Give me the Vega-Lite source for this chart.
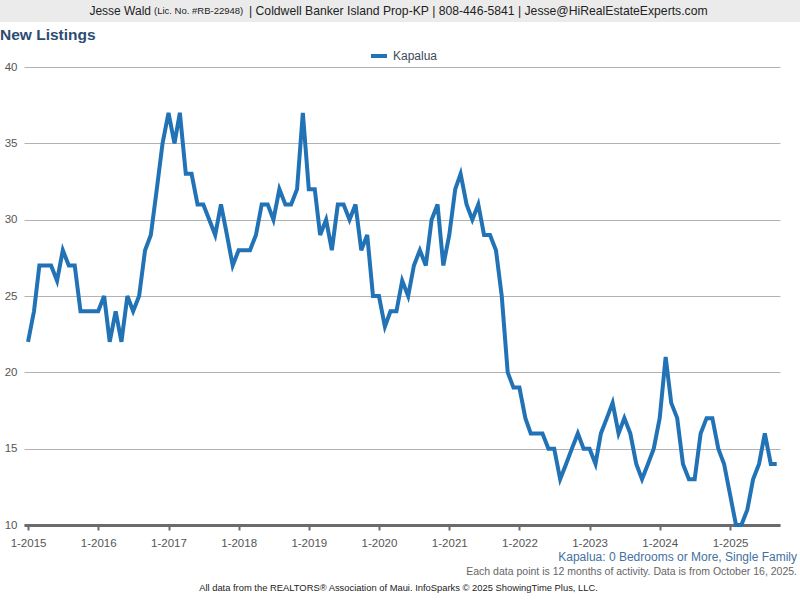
{
  "$schema": "https://vega.github.io/schema/vega-lite/v6.json",
  "padding": 0,
  "background": "white",
  "config": {"view": {"stroke": null}, "font": "Liberation Sans"},
  "columns": 1,
  "bounds": "flush",
  "spacing": 45,
  "align": "none",
  "concat": [
    {
      "width": 800,
      "height": 22,
      "view": {"fill": "#ebebeb", "stroke": null},
      "layer": [
        {"data": {"values": [{"t": "Jesse Wald"}]}, "mark": {"type": "text", "align": "right", "dx": -249, "fontSize": 12, "color": "#222"}, "encoding": {"text": {"field": "t"}}},
        {"data": {"values": [{"t": "(Lic. No. #RB-22948)"}]}, "mark": {"type": "text", "align": "left", "dx": -246, "fontSize": 9.5, "color": "#222"}, "encoding": {"text": {"field": "t"}}},
        {"data": {"values": [{"t": "| Coldwell Banker Island Prop-KP | 808-446-5841 | Jesse@HiRealEstateExperts.com"}]}, "mark": {"type": "text", "align": "left", "dx": -151, "fontSize": 12.2, "color": "#222"}, "encoding": {"text": {"field": "t"}}}
      ]
    },
    {
      "width": 780,
      "height": 458,
      "title": {"text": "New Listings", "anchor": "start", "frame": "group", "fontSize": 15.5, "fontWeight": "bold", "color": "#2c4c72", "offset": 18},
      "data": {"values": [
        {"date": "2015/01/01", "value": 22}, {"date": "2015/02/01", "value": 24}, {"date": "2015/03/01", "value": 27}, {"date": "2015/04/01", "value": 27},
        {"date": "2015/05/01", "value": 27}, {"date": "2015/06/01", "value": 26}, {"date": "2015/07/01", "value": 28}, {"date": "2015/08/01", "value": 27},
        {"date": "2015/09/01", "value": 27}, {"date": "2015/10/01", "value": 24}, {"date": "2015/11/01", "value": 24}, {"date": "2015/12/01", "value": 24},
        {"date": "2016/01/01", "value": 24}, {"date": "2016/02/01", "value": 25}, {"date": "2016/03/01", "value": 22}, {"date": "2016/04/01", "value": 24},
        {"date": "2016/05/01", "value": 22}, {"date": "2016/06/01", "value": 25}, {"date": "2016/07/01", "value": 24}, {"date": "2016/08/01", "value": 25},
        {"date": "2016/09/01", "value": 28}, {"date": "2016/10/01", "value": 29}, {"date": "2016/11/01", "value": 32}, {"date": "2016/12/01", "value": 35},
        {"date": "2017/01/01", "value": 37}, {"date": "2017/02/01", "value": 35}, {"date": "2017/03/01", "value": 37}, {"date": "2017/04/01", "value": 33},
        {"date": "2017/05/01", "value": 33}, {"date": "2017/06/01", "value": 31}, {"date": "2017/07/01", "value": 31}, {"date": "2017/08/01", "value": 30},
        {"date": "2017/09/01", "value": 29}, {"date": "2017/10/01", "value": 31}, {"date": "2017/11/01", "value": 29}, {"date": "2017/12/01", "value": 27},
        {"date": "2018/01/01", "value": 28}, {"date": "2018/02/01", "value": 28}, {"date": "2018/03/01", "value": 28}, {"date": "2018/04/01", "value": 29},
        {"date": "2018/05/01", "value": 31}, {"date": "2018/06/01", "value": 31}, {"date": "2018/07/01", "value": 30}, {"date": "2018/08/01", "value": 32},
        {"date": "2018/09/01", "value": 31}, {"date": "2018/10/01", "value": 31}, {"date": "2018/11/01", "value": 32}, {"date": "2018/12/01", "value": 37},
        {"date": "2019/01/01", "value": 32}, {"date": "2019/02/01", "value": 32}, {"date": "2019/03/01", "value": 29}, {"date": "2019/04/01", "value": 30},
        {"date": "2019/05/01", "value": 28}, {"date": "2019/06/01", "value": 31}, {"date": "2019/07/01", "value": 31}, {"date": "2019/08/01", "value": 30},
        {"date": "2019/09/01", "value": 31}, {"date": "2019/10/01", "value": 28}, {"date": "2019/11/01", "value": 29}, {"date": "2019/12/01", "value": 25},
        {"date": "2020/01/01", "value": 25}, {"date": "2020/02/01", "value": 23}, {"date": "2020/03/01", "value": 24}, {"date": "2020/04/01", "value": 24},
        {"date": "2020/05/01", "value": 26}, {"date": "2020/06/01", "value": 25}, {"date": "2020/07/01", "value": 27}, {"date": "2020/08/01", "value": 28},
        {"date": "2020/09/01", "value": 27}, {"date": "2020/10/01", "value": 30}, {"date": "2020/11/01", "value": 31}, {"date": "2020/12/01", "value": 27},
        {"date": "2021/01/01", "value": 29}, {"date": "2021/02/01", "value": 32}, {"date": "2021/03/01", "value": 33}, {"date": "2021/04/01", "value": 31},
        {"date": "2021/05/01", "value": 30}, {"date": "2021/06/01", "value": 31}, {"date": "2021/07/01", "value": 29}, {"date": "2021/08/01", "value": 29},
        {"date": "2021/09/01", "value": 28}, {"date": "2021/10/01", "value": 25}, {"date": "2021/11/01", "value": 20}, {"date": "2021/12/01", "value": 19},
        {"date": "2022/01/01", "value": 19}, {"date": "2022/02/01", "value": 17}, {"date": "2022/03/01", "value": 16}, {"date": "2022/04/01", "value": 16},
        {"date": "2022/05/01", "value": 16}, {"date": "2022/06/01", "value": 15}, {"date": "2022/07/01", "value": 15}, {"date": "2022/08/01", "value": 13},
        {"date": "2022/09/01", "value": 14}, {"date": "2022/10/01", "value": 15}, {"date": "2022/11/01", "value": 16}, {"date": "2022/12/01", "value": 15},
        {"date": "2023/01/01", "value": 15}, {"date": "2023/02/01", "value": 14}, {"date": "2023/03/01", "value": 16}, {"date": "2023/04/01", "value": 17},
        {"date": "2023/05/01", "value": 18}, {"date": "2023/06/01", "value": 16}, {"date": "2023/07/01", "value": 17}, {"date": "2023/08/01", "value": 16},
        {"date": "2023/09/01", "value": 14}, {"date": "2023/10/01", "value": 13}, {"date": "2023/11/01", "value": 14}, {"date": "2023/12/01", "value": 15},
        {"date": "2024/01/01", "value": 17}, {"date": "2024/02/01", "value": 21}, {"date": "2024/03/01", "value": 18}, {"date": "2024/04/01", "value": 17},
        {"date": "2024/05/01", "value": 14}, {"date": "2024/06/01", "value": 13}, {"date": "2024/07/01", "value": 13}, {"date": "2024/08/01", "value": 16},
        {"date": "2024/09/01", "value": 17}, {"date": "2024/10/01", "value": 17}, {"date": "2024/11/01", "value": 15}, {"date": "2024/12/01", "value": 14},
        {"date": "2025/01/01", "value": 12}, {"date": "2025/02/01", "value": 10}, {"date": "2025/03/01", "value": 10}, {"date": "2025/04/01", "value": 11},
        {"date": "2025/05/01", "value": 13}, {"date": "2025/06/01", "value": 14}, {"date": "2025/07/01", "value": 16}, {"date": "2025/08/01", "value": 14},
        {"date": "2025/09/01", "value": 14}
      ]},
      "mark": {"type": "line", "strokeWidth": 4},
      "encoding": {
        "x": {
          "field": "date", "type": "temporal",
          "scale": {"domain": [{"year": 2014, "month": 12, "date": 11}, {"year": 2025, "month": 9, "date": 18}], "range": [24, 780]},
          "axis": {"title": null, "format": "%-m-%Y", "tickCount": {"interval": "year", "step": 1}, "grid": false, "domainColor": "#6b6b6b", "domainWidth": 3, "tickColor": "#6b6b6b", "tickWidth": 2, "tickSize": 5, "labelFontSize": 11.5, "labelColor": "#555555", "labelPadding": 7, "labelFlush": false, "labelOverlap": false}
        },
        "y": {
          "field": "value", "type": "quantitative",
          "scale": {"domain": [10, 40], "nice": false, "zero": false},
          "axis": {"title": null, "values": [10, 15, 20, 25, 30, 35, 40], "domain": false, "ticks": false, "labelPadding": -17, "labelFontSize": 11.5, "labelColor": "#555555", "gridColor": "#b3b3b3", "gridWidth": 1}
        },
        "color": {
          "datum": "Kapalua",
          "scale": {"range": ["#2272b6"]},
          "legend": {"title": null, "orient": "none", "legendX": 369, "legendY": 46, "symbolType": "stroke", "symbolStrokeWidth": 4, "symbolSize": 256, "labelFontSize": 12, "labelColor": "#3d4a5a", "padding": 0, "labelOffset": 4}
        }
      }
    },
    {
      "width": 797,
      "height": 28,
      "title": {"text": "Kapalua: 0 Bedrooms or More, Single Family", "subtitle": "Each data point is 12 months of activity. Data is from October 16, 2025.", "anchor": "end", "frame": "group", "fontSize": 12, "fontWeight": "normal", "color": "#44719f", "subtitleFontSize": 10.5, "subtitleColor": "#666666", "subtitlePadding": 3, "offset": -8},
      "data": {"values": [{"t": "All data from the REALTORS® Association of Maui. InfoSparks © 2025 ShowingTime Plus, LLC."}]},
      "mark": {"type": "text", "baseline": "top", "fontSize": 9.4, "color": "#222222"},
      "encoding": {"text": {"field": "t"}}
    }
  ]
}
